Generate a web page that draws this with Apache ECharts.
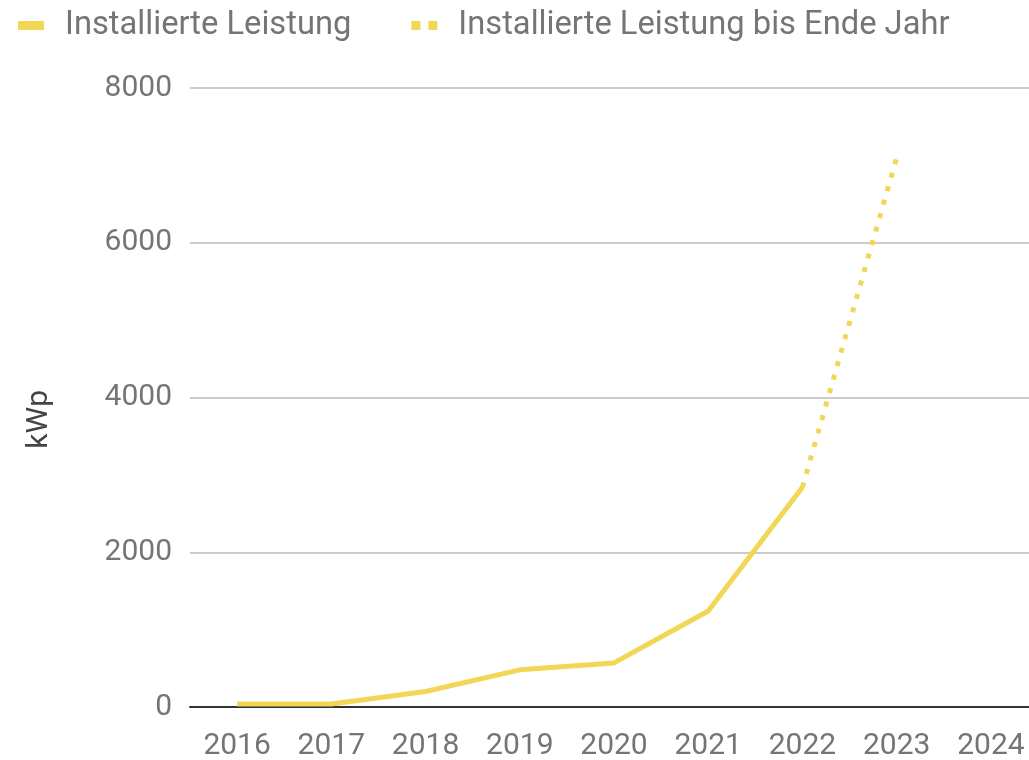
<!DOCTYPE html>
<html>
<head>
<meta charset="utf-8">
<title>Installierte Leistung</title>
<script src="https://cdn.jsdelivr.net/npm/echarts@6/dist/echarts.min.js"></script>
<style>
  html, body { margin: 0; padding: 0; background: #fff; }
  #chart { width: 1029px; height: 760px; }
</style>
</head>
<body>
<div id="chart"></div>
<script>
var years = ['2016', '2017', '2018', '2019', '2020', '2021', '2022', '2023', '2024'];
// installed capacity (kWp)
var leistung = [40, 40, 200, 480, 570, 1240, 2840, null, null];
// projected until end of year
var leistungBisEnde = [null, null, null, null, null, null, 2840, 7100, null];

var gelb = '#f1d755';
var grau = '#757575';

var myChart = echarts.init(document.getElementById('chart'));
var option = {
    animation: false,
    textStyle: { fontFamily: 'Roboto' },
    legend: {
        left: 13,
        top: 4,
        itemGap: 60,
        itemWidth: 26,
        itemHeight: 9,
        textStyle: { color: grau, fontSize: 32.7, fontFamily: 'Roboto', padding: [0, 0, 0, 16] },
        data: [
            { name: 'Installierte Leistung', icon: 'rect' },
            { name: 'Installierte Leistung bis Ende Jahr', icon: 'path://M0,0h9v9h-9z M17,0h9v9h-9z' }
        ]
    },
    graphic: [{
        type: 'text',
        left: 24,
        top: 390,
        rotation: Math.PI / 2,
        style: { text: 'kWp', fill: '#444', fontSize: 30, fontFamily: 'Roboto' }
    }],
    grid: {
        left: 190,
        width: 848,
        top: 88,
        bottom: 53,
        outerBoundsMode: 'none',
        containLabel: false
    },
    xAxis: {
        type: 'category',
        data: years,
        boundaryGap: true,
        axisLine: { lineStyle: { color: '#333', width: 2 } },
        axisTick: { show: false },
        axisLabel: { color: grau, fontSize: 30, margin: 24 }
    },
    yAxis: {
        type: 'value',
        min: 0,
        max: 8000,
        interval: 2000,
        axisLine: { show: false },
        axisTick: { show: false },
        axisLabel: { color: grau, fontSize: 30, margin: 18, formatter: function (v) { return String(v); } },
        splitLine: { lineStyle: { color: '#cccccc', width: 2 } }
    },
    series: [
        {
            name: 'Installierte Leistung',
            type: 'line',
            data: leistung,
            symbol: 'none',
            itemStyle: { color: gelb },
            lineStyle: { color: gelb, width: 5 }
        },
        {
            name: 'Installierte Leistung bis Ende Jahr',
            type: 'line',
            data: leistungBisEnde,
            symbol: 'none',
            itemStyle: { color: gelb },
            lineStyle: { color: gelb, width: 5, type: [5, 9] }
        }
    ]
};
myChart.setOption(option);
</script>
</body>
</html>
